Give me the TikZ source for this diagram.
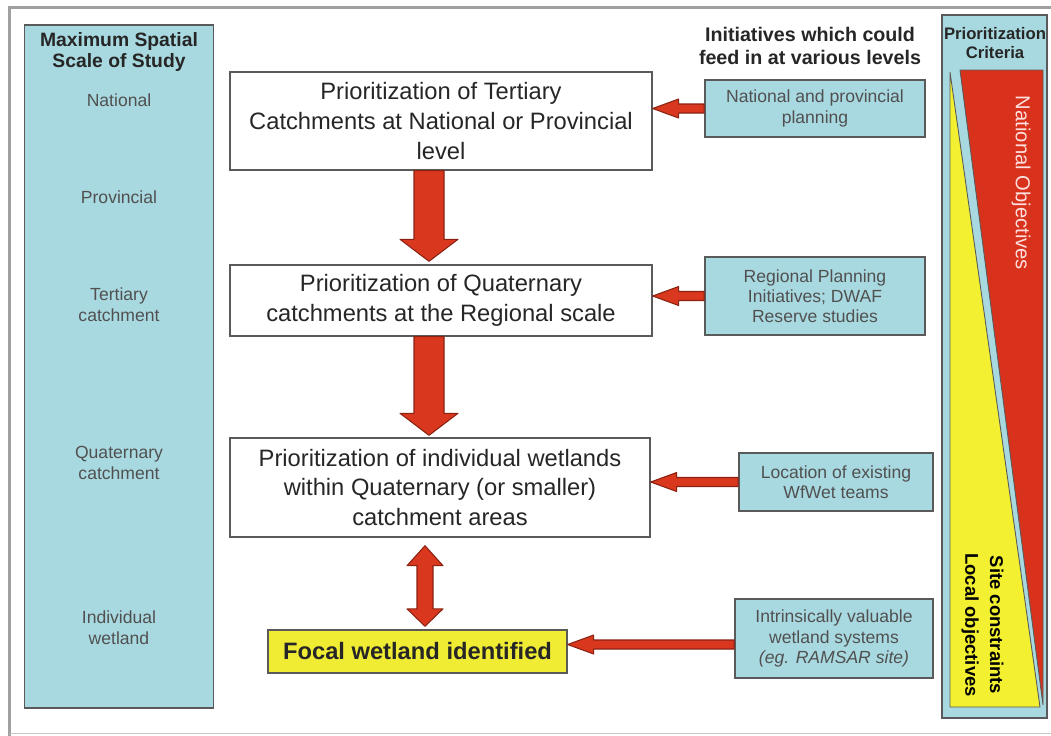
\documentclass[tikz,border=0pt]{standalone}
\usepackage{fontspec}
\setmainfont{Liberation Sans}
\usetikzlibrary{calc}
\definecolor{panelblue}{HTML}{A9D9E0}
\definecolor{edgegray}{HTML}{5A5A5A}
\definecolor{framegray}{HTML}{A0A0A0}
\definecolor{arrowred}{HTML}{D9381E}
\definecolor{arrowdark}{HTML}{8A2212}
\definecolor{focalyellow}{HTML}{F0EC34}
\definecolor{critred}{HTML}{D8321C}
\definecolor{crityellow}{HTML}{F2F030}
\definecolor{labelgray}{HTML}{505050}

% fat block arrows between node anchors
\newcommand{\fatdown}[2]{%
  \filldraw[fatarrow] let \p1=(#1), \p2=(#2) in
    (\x1-0.3cm,\y1) -- (\x1-0.3cm,\y2+0.44cm) -- (\x1-0.58cm,\y2+0.44cm)
    -- (\x1,\y2) -- (\x1+0.58cm,\y2+0.44cm) -- (\x1+0.3cm,\y2+0.44cm)
    -- (\x1+0.3cm,\y1) -- cycle;}
\newcommand{\fatboth}[2]{%
  \filldraw[fatarrow] let \p1=(#1), \p2=(#2) in
    (\x1,\y1) -- (\x1+0.36cm,\y1-0.4cm) -- (\x1+0.16cm,\y1-0.4cm)
    -- (\x1+0.16cm,\y2+0.35cm) -- (\x1+0.36cm,\y2+0.35cm) -- (\x1,\y2)
    -- (\x1-0.36cm,\y2+0.35cm) -- (\x1-0.16cm,\y2+0.35cm)
    -- (\x1-0.16cm,\y1-0.4cm) -- (\x1-0.36cm,\y1-0.4cm) -- cycle;}
\newcommand{\fatleft}[2]{%
  \filldraw[fatarrow] let \p1=(#1), \p2=(#2) in
    (\x1,\y1+0.09cm) -- (\x2+0.52cm,\y1+0.09cm) -- (\x2+0.52cm,\y1+0.19cm)
    -- (\x2,\y1) -- (\x2+0.52cm,\y1-0.19cm) -- (\x2+0.52cm,\y1-0.09cm)
    -- (\x1,\y1-0.09cm) -- cycle;}

\begin{document}
\begin{tikzpicture}[x=0.02cm, y=-0.02cm,
  stage/.style={draw=edgegray, fill=white, line width=0.8pt, align=center,
    inner sep=2pt, font=\fontsize{13.5}{17}\selectfont, text=black!85},
  source/.style={draw=edgegray, fill=panelblue, line width=1pt, align=center,
    inner sep=2pt, font=\fontsize{10}{11.5}\selectfont, text=labelgray},
  panel/.style={draw=edgegray, fill=panelblue, line width=1pt, inner sep=0pt},
  scalelabel/.style={font=\fontsize{10}{12}\selectfont, text=labelgray, align=center},
  heading/.style={font=\bfseries\fontsize{11}{12}\selectfont, align=center, text=black!85},
  fatarrow/.style={fill=arrowred, draw=arrowdark, line width=0.6pt, line join=round}
]
\useasboundingbox (0,0) rectangle (1051,735);
% frame
\draw[framegray, line width=0.07cm] (1060,7.5) -- (9.5,7.5) -- (9.5,745);
\draw[framegray!60, line width=0.03cm] (9.5,733.5) -- (1060,733.5);

% scale of study
\node[panel, minimum width=3.78cm, minimum height=13.66cm] (scale) at (119,366.5) {};
\node[heading] (scaletitle) at (119,52) {Maximum Spatial\\Scale of Study};
\node[scalelabel] (national) at (119,100) {National};
\node[scalelabel] (provincial) at (119,197) {Provincial};
\node[scalelabel] (tertiarylvl) at (119,305) {Tertiary\\catchment};
\node[scalelabel] (quaternarylvl) at (119,463) {Quaternary\\catchment};
\node[scalelabel] (wetlandlvl) at (119,628) {Individual\\wetland};

% prioritization stages
\node[stage, minimum width=8.44cm, minimum height=1.96cm] (tertiary) at (441,121)
  {Prioritization of Tertiary\\Catchments at National or Provincial\\level};
\node[stage, minimum width=8.44cm, minimum height=1.42cm] (quaternary) at (441,300.5)
  {Prioritization of Quaternary\\catchments at the Regional scale};
\node[stage, minimum width=8.4cm, minimum height=1.98cm] (wetlands) at (440,487.5)
  {Prioritization of individual wetlands\\within Quaternary (or smaller)\\catchment areas};
\node[stage, fill=focalyellow, font=\bfseries\fontsize{13.5}{17}\selectfont,
  minimum width=5.98cm, minimum height=0.86cm] (focal) at (417.5,651.5) {Focal wetland identified};

% initiatives
\node[heading, font=\bfseries\fontsize{11.2}{13}\selectfont] (inittitle) at (810,46)
  {Initiatives which could\\feed in at various levels};
\node[source, minimum width=4.4cm, minimum height=1.14cm] (natplan) at (815,108.5)
  {National and provincial\\planning};
\node[source, minimum width=4.4cm, minimum height=1.56cm] (regplan) at (815,296)
  {Regional Planning\\Initiatives; DWAF\\Reserve studies};
\node[source, minimum width=3.88cm, minimum height=1.16cm] (wfwet) at (836,482)
  {Location of existing\\WfWet teams};
\node[source, minimum width=3.96cm, minimum height=1.58cm] (ramsar) at (834,638.5)
  {Intrinsically valuable\\wetland systems\\\textit{(eg. RAMSAR site)}};

% prioritization criteria
\node[panel, minimum width=2.1cm, minimum height=14.06cm] (criteria) at (994.5,366.5) {};
\node[heading, font=\bfseries\fontsize{9.5}{11.3}\selectfont] (crittitle) at (995,43)
  {Prioritization\\Criteria};
\filldraw[fill=critred, draw=edgegray, line width=0.5pt] (960,70) -- (1043,70) -- (1043,705) -- cycle;
\filldraw[fill=crityellow, draw=edgegray, line width=0.5pt] (950,72) -- (950,707) -- (1040,707) -- cycle;
\node[rotate=-90, font=\fontsize{11.5}{13}\selectfont, text=white!88!red] (natobj) at (1021,183)
  {National Objectives};
\node[rotate=-90, font=\bfseries\fontsize{10.5}{14}\selectfont, align=center] (localobj) at (982.5,625)
  {Site constraints\\Local objectives};

% arrows
\fatdown{$(tertiary.south)+(-12,0)$}{$(quaternary.north)+(-12,-3)$}
\fatdown{$(quaternary.south)+(-12,0)$}{$(wetlands.north)+(-12,-2)$}
\fatboth{$(wetlands.south)+(-15,8)$}{$(focal.north)+(7.5,-3)$}
\fatleft{natplan.west}{tertiary.east}
\fatleft{regplan.west}{quaternary.east}
\fatleft{wfwet.west}{wetlands.east}
\fatleft{$(ramsar.west)+(0,6)$}{focal.east}
\end{tikzpicture}
\end{document}
